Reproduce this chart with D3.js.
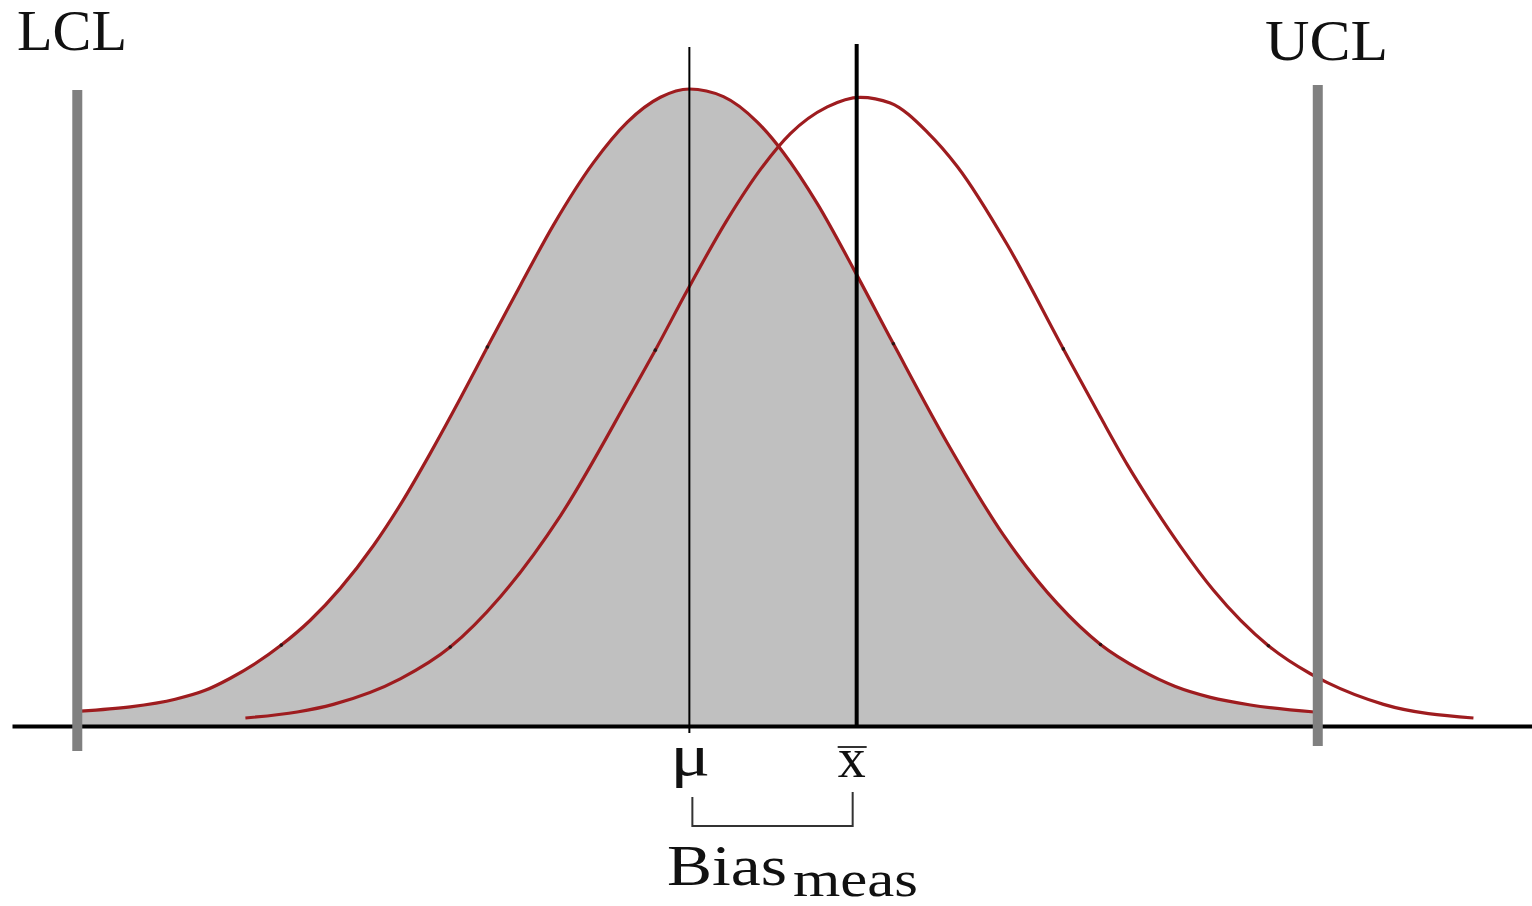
<!DOCTYPE html>
<html>
<head>
<meta charset="utf-8">
<script src="https://cdn.jsdelivr.net/npm/d3@7"></script>
<style>
  html, body { margin: 0; padding: 0; background: #fff; }
  svg { display: block; }
  text { font-family: "Liberation Serif", "DejaVu Serif", serif; fill: #111; }
</style>
</head>
<body>
<svg id="chart" width="1532" height="906"></svg>
<script>
// Reference distribution (centred on mu), x in standard-deviation units, y as relative density
const refZ = [-2.985, -2.740, -2.520, -2.373, -2.250, -2.000, -1.858, -1.711, -1.549, -1.402,
              -1.270, -1.123, -0.990, -0.828, -0.667, -0.471, -0.304, -0.142, 0.000, 0.167,
              0.333, 0.461, 0.627, 0.804, 1.000, 1.265, 1.539, 1.804, 2.015, 2.211,
              2.382, 2.554, 2.750, 3.064];
const refV = [0.0235, 0.030, 0.042, 0.056, 0.075, 0.127, 0.166, 0.216, 0.283, 0.355,
              0.428, 0.514, 0.595, 0.692, 0.786, 0.884, 0.948, 0.987, 1.000, 0.988,
              0.948, 0.900, 0.820, 0.718, 0.600, 0.444, 0.300, 0.192, 0.128, 0.088,
              0.062, 0.045, 0.033, 0.022];

// Measured distribution (centred on x-bar)
const measZ = [-2.176, -1.922, -1.745, -1.417, -1.172, -0.926, -0.632, -0.289, -0.167, -0.010,
               0.186, 0.363, 0.495, 0.676, 0.838, 0.985, 1.167, 1.314, 1.559, 1.833,
               2.015, 2.147, 2.260, 2.407, 2.569, 2.838, 3.044, 3.127, 3.402, 3.843];
const measV = [0.0126, 0.022, 0.034, 0.074, 0.124, 0.203, 0.330, 0.520, 0.590, 0.684,
               0.795, 0.880, 0.930, 0.972, 0.987, 0.978, 0.932, 0.878, 0.755, 0.592,
               0.485, 0.410, 0.352, 0.282, 0.213, 0.126, 0.082, 0.068, 0.034, 0.0126];

// Sigma marks (±1σ, ±2σ) on each curve, as indices into the arrays above
const refMarks = [5, 12, 24, 28];
const measMarks = [4, 8, 19, 25];

// Control limits and centre values
const limitLabels = ["LCL", "UCL"];
const limitValues = [-3.0, 3.08];
const muValue = 0;
const xbarValue = 0.82;

const svg = d3.select("#chart");

const x = d3.scaleLinear().domain([-3.32, 4.13]).range([12, 1532]);
const y = d3.scaleLinear().domain([0, 1]).range([726, 89]);

const refPts = refZ.map((z, i) => ({ z, v: refV[i] }));
const measPts = measZ.map((z, i) => ({ z, v: measV[i] }));

const curveType = d3.curveMonotoneX;

// Shaded reference distribution
svg.append("path")
  .datum(refPts)
  .attr("fill", "#c0c0c0")
  .attr("d", d3.area().x(d => x(d.z)).y0(y(0)).y1(d => y(d.v)).curve(curveType));

// Baseline axis
const axis = svg.append("g")
  .attr("transform", `translate(0,${y(0)})`)
  .call(d3.axisBottom(x).tickValues([]).tickSizeOuter(0));
axis.select(".domain").attr("stroke", "#000").attr("stroke-width", 4);

// Distribution outlines
const line = d3.line().x(d => x(d.z)).y(d => y(d.v)).curve(curveType);
[refPts, measPts].forEach(pts => {
  svg.append("path")
    .datum(pts)
    .attr("fill", "none")
    .attr("stroke", "#9e1c1f")
    .attr("stroke-width", 3.2)
    .attr("stroke-linejoin", "round")
    .attr("d", line);
});

// Small sigma marks on the outlines
svg.append("g").selectAll("circle")
  .data(refMarks.map(i => refPts[i]).concat(measMarks.map(i => measPts[i])))
  .join("circle")
  .attr("cx", d => x(d.z))
  .attr("cy", d => y(d.v))
  .attr("r", 1.8)
  .attr("fill", "#2a1414");

// Centre lines: mu (thin) and x-bar (heavy)
svg.append("line")
  .attr("x1", x(muValue)).attr("x2", x(muValue))
  .attr("y1", 47).attr("y2", 733)
  .attr("stroke", "#000").attr("stroke-width", 2);
svg.append("line")
  .attr("x1", x(xbarValue)).attr("x2", x(xbarValue))
  .attr("y1", 44).attr("y2", 727)
  .attr("stroke", "#000").attr("stroke-width", 4);

// Control limit bars
const limitTop = [90, 85];
const limitBottom = [751, 746];
limitValues.forEach((v, i) => {
  svg.append("line")
    .attr("x1", x(v)).attr("x2", x(v))
    .attr("y1", limitTop[i]).attr("y2", limitBottom[i])
    .attr("stroke", "#808080").attr("stroke-width", 10);
});

// Limit labels
svg.append("text")
  .attr("x", 17).attr("y", 50)
  .attr("font-size", 56)
  .attr("textLength", 110).attr("lengthAdjust", "spacingAndGlyphs")
  .text(limitLabels[0]);
svg.append("text")
  .attr("x", 1265).attr("y", 60)
  .attr("font-size", 56)
  .attr("textLength", 123).attr("lengthAdjust", "spacingAndGlyphs")
  .text(limitLabels[1]);

// Centre labels
svg.append("text")
  .attr("x", x(muValue) - 19).attr("y", 775)
  .attr("font-size", 60)
  .attr("textLength", 40).attr("lengthAdjust", "spacingAndGlyphs")
  .text("μ");
svg.append("text")
  .attr("x", x(xbarValue) - 5).attr("y", 777)
  .attr("text-anchor", "middle")
  .attr("font-size", 56)
  .text("x");
svg.append("line")
  .attr("x1", x(xbarValue) - 19).attr("x2", x(xbarValue) + 10)
  .attr("y1", 747).attr("y2", 747)
  .attr("stroke", "#333").attr("stroke-width", 2);

// Bias bracket between mu and x-bar
svg.append("path")
  .attr("fill", "none")
  .attr("stroke", "#333")
  .attr("stroke-width", 2)
  .attr("d", `M${x(muValue) + 3},797 V826 H${x(xbarValue) - 4} V792`);

const bias = svg.append("text").attr("font-size", 56);
bias.append("tspan")
  .attr("x", 667).attr("y", 885)
  .attr("textLength", 120).attr("lengthAdjust", "spacingAndGlyphs")
  .text("Bias");
bias.append("tspan")
  .attr("x", 793).attr("y", 896)
  .attr("font-size", 50)
  .attr("textLength", 125).attr("lengthAdjust", "spacingAndGlyphs")
  .text("meas");
</script>
</body>
</html>
